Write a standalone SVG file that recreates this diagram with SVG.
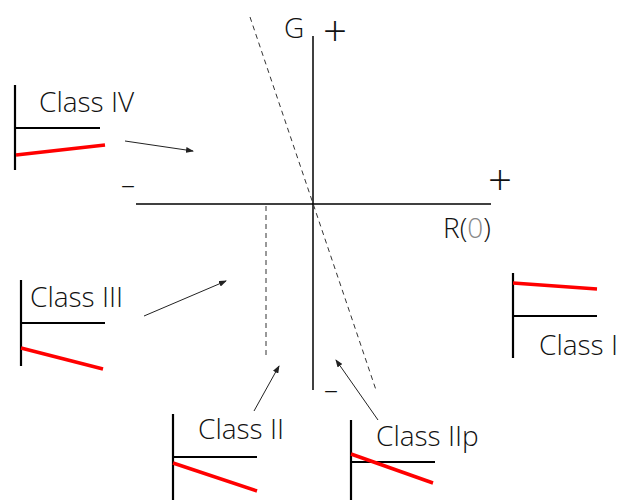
<svg xmlns="http://www.w3.org/2000/svg" width="619" height="501" viewBox="0 0 619 501">
<style>
text{font-family:"Open Sans","Noto Sans",sans-serif;font-size:28px;font-weight:300;fill:#111}
.plus{font-size:42px}
.ax{stroke:#000;stroke-width:1.5;fill:none}
.dash{stroke:#333;stroke-width:1;stroke-dasharray:5,4;fill:none}
.k{stroke:#000;stroke-width:2.2;fill:none}
.r{stroke:#f00;stroke-width:3.5;fill:none}
.arr{stroke:#222;stroke-width:1;fill:none;marker-end:url(#ah)}
</style>
<defs>
<marker id="ah" markerWidth="8" markerHeight="6" refX="7" refY="3" orient="auto" markerUnits="userSpaceOnUse">
<path d="M0,0 L8,3 L0,6 Z" fill="#222"/>
</marker>
</defs>
<g id="axes">
<line class="ax" x1="313" y1="36" x2="313" y2="390"/>
<line class="ax" x1="136" y1="204" x2="491" y2="204"/>
<line class="dash" x1="250" y1="17" x2="376" y2="390"/>
<line class="dash" x1="266" y1="206" x2="266" y2="356"/>
<text x="284" y="38">G</text>
<text class="plus" x="323" y="46">+</text>
<text class="plus" x="488" y="195">+</text>
<text x="121" y="194">–</text>
<text x="324" y="399">–</text>
<text x="443" y="238">R(<tspan fill="#888">0</tspan>)</text>
</g>
<g id="class4">
<line class="k" x1="15" y1="85" x2="15" y2="170"/>
<line class="k" x1="15" y1="128" x2="100" y2="128"/>
<line class="r" x1="16" y1="155" x2="105" y2="145"/>
<text x="39" y="112">Class IV</text>
</g>
<g id="class3">
<line class="k" x1="21" y1="280" x2="21" y2="366"/>
<line class="k" x1="21" y1="323" x2="105" y2="323"/>
<line class="r" x1="21" y1="348" x2="103" y2="369"/>
<text x="30" y="307">Class III</text>
</g>
<g id="class1">
<line class="k" x1="513" y1="273" x2="513" y2="358"/>
<line class="k" x1="513" y1="316" x2="597" y2="316"/>
<line class="r" x1="513" y1="283" x2="597" y2="289"/>
<text x="539" y="355">Class I</text>
</g>
<g id="class2">
<line class="k" x1="173" y1="414" x2="173" y2="500"/>
<line class="k" x1="173" y1="457" x2="257" y2="457"/>
<line class="r" x1="173" y1="463" x2="257" y2="491"/>
<text x="198" y="439">Class II</text>
</g>
<g id="class2p">
<line class="k" x1="351" y1="420" x2="351" y2="500"/>
<line class="k" x1="351" y1="462" x2="435" y2="462"/>
<line class="r" x1="351" y1="454" x2="433" y2="483"/>
<text x="376" y="446">Class IIp</text>
</g>
<g id="connectors">
<line class="arr" x1="125" y1="141" x2="193" y2="151"/>
<line class="arr" x1="144" y1="316" x2="226" y2="281"/>
<line class="arr" x1="254" y1="411" x2="279" y2="366"/>
<line class="arr" x1="378" y1="420" x2="336" y2="360"/>
</g>
</svg>
